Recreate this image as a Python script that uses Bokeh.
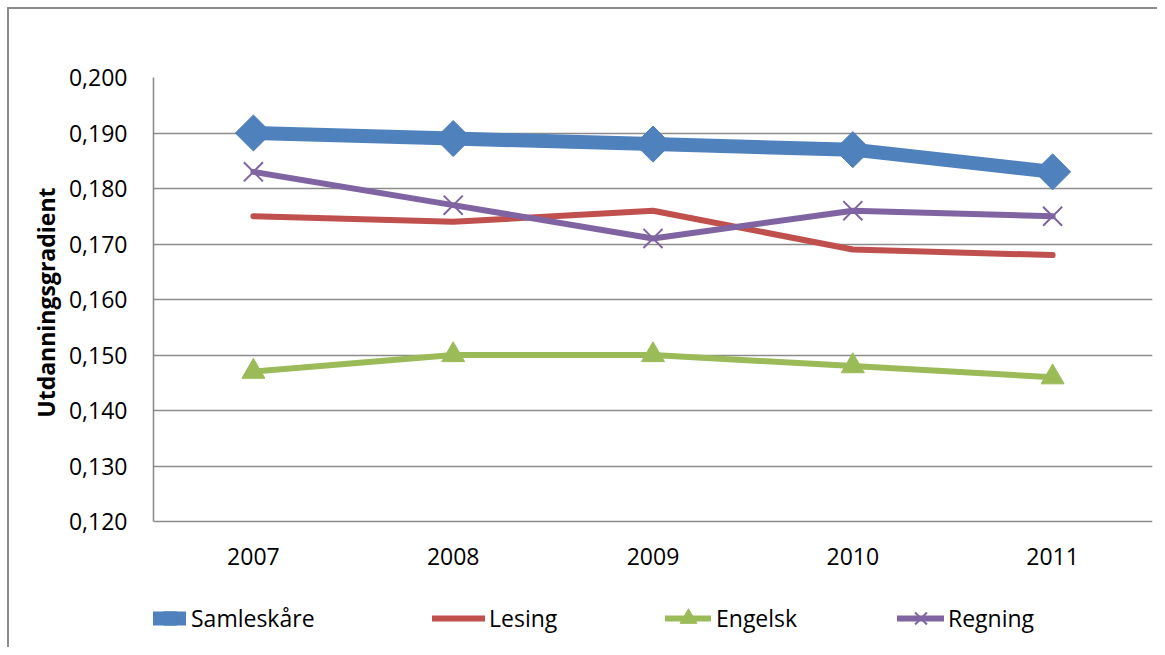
from bokeh.plotting import figure
from bokeh.models import FactorRange, FixedTicker, CustomJSTickFormatter, Legend, LegendItem, Title
from bokeh.core.properties import value
from bokeh.embed import file_html
from bokeh.resources import INLINE

years = ["2007", "2008", "2009", "2010", "2011"]
samleskare = [0.190, 0.189, 0.188, 0.187, 0.183]
lesing = [0.175, 0.174, 0.176, 0.169, 0.168]
engelsk = [0.147, 0.150, 0.150, 0.148, 0.146]
regning = [0.183, 0.177, 0.171, 0.176, 0.175]
y_ticks = [0.120, 0.130, 0.140, 0.150, 0.160, 0.170, 0.180, 0.190, 0.200]
y_title = "Utdanningsgradient"

FONT = "Open Sans"
GRID = "#8c8c8c"

# plot area: value axis 0.120..0.200 spans 444 px, area continues 128 px below for labels/legend
y_lo, y_hi = y_ticks[0], y_ticks[-1]
y_start = y_lo - (y_hi - y_lo) * 128 / 444

p = figure(width=1150, height=640, x_range=FactorRange(*years, range_padding=0),
           y_range=(y_start, y_hi), output_backend="svg", toolbar_location=None,
           x_axis_location=None,
           min_border_left=144, min_border_right=7, min_border_top=68, min_border_bottom=0)
p.styles = {"border-top": "2px solid #8c8c8c", "border-left": "2px solid #8c8c8c",
            "margin-left": "7px", "margin-top": "7px"}
p.background_fill_color = "white"
p.border_fill_color = "white"
p.outline_line_color = None

p.xgrid.grid_line_color = None
p.ygrid.grid_line_color = GRID
p.ygrid.grid_line_width = 1.6

ax = p.yaxis[0]
ax.ticker = FixedTicker(ticks=y_ticks)
ax.bounds = (y_lo, y_hi)
ax.formatter = CustomJSTickFormatter(code="return tick.toFixed(3).replace('.', ',');")
ax.axis_line_color = GRID
ax.axis_line_width = 1.6
ax.major_tick_line_color = None
ax.minor_tick_line_color = None
ax.major_label_text_font = FONT
ax.major_label_text_font_size = "23px"
ax.major_label_text_color = "black"
ax.major_label_standoff = 20

# value-axis title, aligned with the 0,120..0,200 part of the plot area
ytitle = Title(text=y_title, align="right", offset=110, standoff=8,
               text_font=FONT, text_font_size="23px", text_font_style="bold", text_color="black")
p.add_layout(ytitle, "left")

# category labels under the 0,120 line
p.text(x=years, y=[y_lo] * len(years), text=years, y_offset=35,
       text_align="center", text_baseline="middle", text_font=value(FONT),
       text_font_size="23px", text_color="black")

blue, red, green, purple = "#4F81BD", "#C0504D", "#9BBB59", "#8064A2"

l1 = p.line(years, samleskare, line_color=blue, line_width=14, line_join="round", line_cap="round")
m1 = p.scatter(years, samleskare, marker="square", angle=0.785398, size=25.5, fill_color=blue, line_color=blue)
l2 = p.line(years, lesing, line_color=red, line_width=6, line_join="round", line_cap="round")
l3 = p.line(years, engelsk, line_color=green, line_width=6, line_join="round", line_cap="round")
m3 = p.scatter(years, engelsk, marker="triangle", size=23, fill_color=green, line_color=green)
l4 = p.line(years, regning, line_color=purple, line_width=6, line_join="round", line_cap="round")
m4 = p.scatter(years, regning, marker="x", size=27, line_color=purple, line_width=2)

specs = [("Samleskåre", [l1, m1], 0, 33, 5),
         ("Lesing", [l2], 279, 53, 4),
         ("Engelsk", [l3, m3], 512, 46, 5),
         ("Regning", [l4, m4], 744, 47, 4)]
for label, rs, x, gw, st in specs:
    lg = Legend(items=[LegendItem(label=label, renderers=rs)], location=(x, 10),
                orientation="horizontal", glyph_width=gw, glyph_height=42, label_standoff=st,
                padding=0, margin=0, border_line_color=None, background_fill_alpha=0,
                label_text_font=FONT, label_text_font_size="23px", label_text_color="black",
                label_height=40)
    p.add_layout(lg, "center")

open("out.html", "w").write(file_html(p, INLINE))
